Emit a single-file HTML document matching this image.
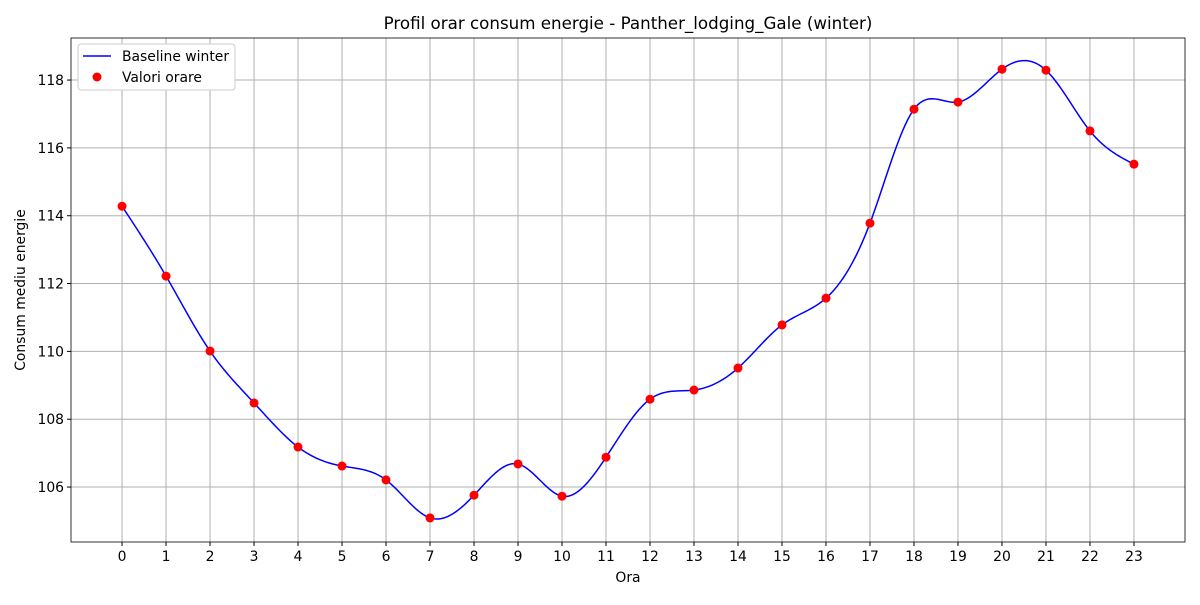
<!DOCTYPE html>
<html><head><meta charset="utf-8"><style>
body{margin:0;background:#fff;font-family:"Liberation Sans","DejaVu Sans",sans-serif;}
svg text{font-family:"DejaVu Sans","Liberation Sans",sans-serif;}
</style></head><body>
<svg id="chart" width="1200" height="600"></svg>
<script>
const hours=[0,1,2,3,4,5,6,7,8,9,10,11,12,13,14,15,16,17,18,19,20,21,22,23];
const values=[114.28,112.22,110.01,108.48,107.18,106.62,106.21,105.09,105.76,106.68,105.73,106.88,108.59,108.86,109.51,110.78,111.57,113.78,117.14,117.35,118.32,118.29,116.50,115.52];
const yTicks=[106,108,110,112,114,116,118];
const NS="http://www.w3.org/2000/svg";
const svg=document.getElementById('chart');
const L=71,R=1185,T=38,B=542;
const xMin=-1.16,xMax=24.16,yMin=104.38,yMax=119.24;
const xs=v=>L+(v-xMin)/(xMax-xMin)*(R-L);
const ys=v=>B-(v-yMin)/(yMax-yMin)*(B-T);
function mk(tag,attrs,txt){const e=document.createElementNS(NS,tag);for(const k in attrs)e.setAttribute(k,attrs[k]);if(txt!==undefined)e.textContent=txt;svg.appendChild(e);return e;}
hours.forEach(h=>{const g=mk('line',{x1:xs(h),x2:xs(h),y1:T,y2:B,stroke:'#b0b0b0','stroke-width':1});


mk('line',{x1:xs(h),x2:xs(h),y1:B,y2:B+4,stroke:'#000'});
const t=mk('text',{x:xs(h),y:B+19,'text-anchor':'middle','font-size':13.9},h);

});
yTicks.forEach(v=>{const g=mk('line',{x1:L,x2:R,y1:ys(v),y2:ys(v),stroke:'#b0b0b0','stroke-width':1});


mk('line',{x1:L-4,x2:L,y1:ys(v),y2:ys(v),stroke:'#000'});
const t=mk('text',{x:L-7,y:ys(v)+5,'text-anchor':'end','font-size':13.9},v);

});
const n=hours.length,a=values.slice(),c=new Array(n).fill(0);
const al=[],l=[1],mu=[0],z=[0];
for(let i=1;i<n-1;i++)al[i]=3*(a[i+1]-2*a[i]+a[i-1]);
for(let i=1;i<n-1;i++){l[i]=4-mu[i-1];mu[i]=1/l[i];z[i]=(al[i]-z[i-1])/l[i];}
z[n-1]=0;
for(let j=n-2;j>=0;j--)c[j]=z[j]-mu[j]*c[j+1];
const b=[],d=[];
for(let j=0;j<n-1;j++){b[j]=a[j+1]-a[j]-(c[j+1]+2*c[j])/3;d[j]=(c[j+1]-c[j])/3;}
let p='';
for(let j=0;j<n-1;j++)for(let k=0;k<=20;k++){const t=k/20,v=a[j]+b[j]*t+c[j]*t*t+d[j]*t*t*t;p+=(p?'L':'M')+xs(hours[j]+t).toFixed(2)+','+ys(v).toFixed(2);}
const line=mk('path',{d:p,fill:'none',stroke:'#0000ff','stroke-width':1.5});


hours.forEach((hh,i)=>{const c=mk('circle',{cx:xs(hh),cy:ys(values[i]),r:4.5,fill:'#ff0000'});

});
const frame=mk('rect',{x:L,y:T,width:R-L,height:B-T,fill:'none',stroke:'#000','stroke-width':0.8});


const title=mk('text',{x:(L+R)/2,y:29,'text-anchor':'middle','font-size':16.7},'Profil orar consum energie - Panther_lodging_Gale (winter)');


const xt=mk('text',{x:(L+R)/2,y:582,'text-anchor':'middle','font-size':13.9},'Ora');


const yt=mk('text',{x:25,y:(T+B)/2,'text-anchor':'middle','font-size':13.9,transform:'rotate(-90 25 '+(T+B)/2+')'},'Consum mediu energie');


const lg=mk('rect',{x:78,y:44,width:157,height:46,rx:3,fill:'#fff',stroke:'#ccc'});


mk('line',{x1:83,x2:111,y1:56,y2:56,stroke:'#0000ff','stroke-width':1.5});
const l1=mk('text',{x:122,y:61,'font-size':13.9},'Baseline winter');


mk('circle',{cx:97,cy:77,r:4.5,fill:'#ff0000'});
const l2=mk('text',{x:122,y:82,'font-size':13.9},'Valori orare');


</script>
</body></html>
